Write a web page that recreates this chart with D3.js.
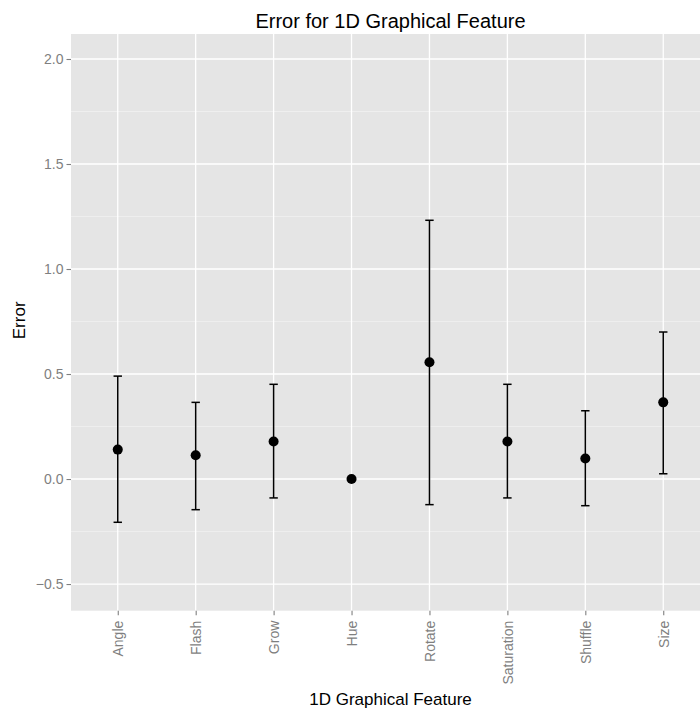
<!DOCTYPE html>
<html>
<head>
<meta charset="utf-8">
<script src="https://cdn.jsdelivr.net/npm/d3@7"></script>
<style>
html,body{margin:0;padding:0;background:#fff;}
svg{display:block;font-family:"Liberation Sans",Arial,sans-serif;}
</style>
</head>
<body>
<svg id="chart" width="700" height="713"></svg>
<script>
const categories = ["Angle","Flash","Grow","Hue","Rotate","Saturation","Shuffle","Size"];
const means  = [0.140, 0.113, 0.179, 0.000, 0.556, 0.179, 0.098, 0.365];
const lowers = [-0.206, -0.146, -0.090, 0.000, -0.122, -0.090, -0.127, 0.025];
const uppers = [0.490, 0.365, 0.451, 0.000, 1.232, 0.451, 0.325, 0.700];
const yTicks = [-0.5, 0.0, 0.5, 1.0, 1.5, 2.0];
const yMinor = [-0.25, 0.25, 0.75, 1.25, 1.75];
const yDomain = [-0.627, 2.119];

(function () {
const svg = d3.select("#chart");
const pL = 71, pR = 710, pT = 34, pB = 610.7;

const x = d3.scalePoint().domain(categories).range([pL, pR]).padding(0.6);
const y = d3.scaleLinear().domain(yDomain).range([pB, pT]);

// panel
svg.append("rect").attr("x", pL).attr("y", pT)
  .attr("width", pR - pL).attr("height", pB - pT).attr("fill", "#e5e5e5");

// minor grid
svg.append("g").selectAll("line").data(yMinor).join("line")
  .attr("x1", pL).attr("x2", pR)
  .attr("y1", d => y(d)).attr("y2", d => y(d))
  .attr("stroke", "#f2f2f2").attr("stroke-width", 0.7);

// major grid
svg.append("g").selectAll("line").data(yTicks).join("line")
  .attr("x1", pL).attr("x2", pR)
  .attr("y1", d => y(d)).attr("y2", d => y(d))
  .attr("stroke", "#ffffff").attr("stroke-width", 1.3);
svg.append("g").selectAll("line").data(categories).join("line")
  .attr("x1", d => x(d)).attr("x2", d => x(d))
  .attr("y1", pT).attr("y2", pB)
  .attr("stroke", "#ffffff").attr("stroke-width", 1.3);

// axes
const yAxis = svg.append("g").attr("transform", `translate(${pL},0)`)
  .call(d3.axisLeft(y).tickValues(yTicks).tickSize(4.5).tickPadding(3)
    .tickFormat(d => d3.format(".1f")(d).replace("-", "\u2212")));
yAxis.select(".domain").remove();
yAxis.selectAll("line").attr("stroke", "#7f7f7f").attr("stroke-width", 1.1);
yAxis.selectAll("text").attr("fill", "#7f7f7f").style("font-size", "14px")
  .style("font-family", "Liberation Sans, Arial, sans-serif");

const xAxis = svg.append("g").attr("transform", `translate(0,${pB})`)
  .call(d3.axisBottom(x).tickSize(4.5).tickPadding(3));
xAxis.select(".domain").remove();
xAxis.selectAll("line").attr("stroke", "#7f7f7f").attr("stroke-width", 1.1);
xAxis.selectAll("text").attr("fill", "#7f7f7f").style("font-size", "14px")
  .style("font-family", "Liberation Sans, Arial, sans-serif")
  .attr("transform", "rotate(-90)")
  .attr("text-anchor", "end").attr("x", -10).attr("y", 0).attr("dy", "0.35em");

// error bars
const data = categories.map((c, i) => ({c, m: means[i], lo: lowers[i], hi: uppers[i]}));
const capHalf = x.step() * 0.054;
const eb = svg.append("g").attr("stroke", "#000").attr("stroke-width", 1.5).attr("fill", "none");
eb.selectAll("line.v").data(data).join("line").attr("class", "v")
  .attr("x1", d => x(d.c)).attr("x2", d => x(d.c))
  .attr("y1", d => y(d.lo)).attr("y2", d => y(d.hi));
eb.selectAll("line.t").data(data).join("line").attr("class", "t")
  .attr("x1", d => x(d.c) - capHalf).attr("x2", d => x(d.c) + capHalf)
  .attr("y1", d => y(d.hi)).attr("y2", d => y(d.hi));
eb.selectAll("line.b").data(data).join("line").attr("class", "b")
  .attr("x1", d => x(d.c) - capHalf).attr("x2", d => x(d.c) + capHalf)
  .attr("y1", d => y(d.lo)).attr("y2", d => y(d.lo));

// points
svg.append("g").selectAll("circle").data(data).join("circle")
  .attr("cx", d => x(d.c)).attr("cy", d => y(d.m)).attr("r", 5).attr("fill", "#000");

// titles
svg.append("text").attr("x", (pL + pR) / 2).attr("y", 28)
  .attr("text-anchor", "middle").style("font-size", "20px").attr("fill", "#000")
  .text("Error for 1D Graphical Feature");
svg.append("text").attr("x", (pL + pR) / 2).attr("y", 705)
  .attr("text-anchor", "middle").style("font-size", "17px").attr("fill", "#000")
  .text("1D Graphical Feature");
svg.append("text").attr("transform", `translate(25,${(pT + pB) / 2 - 2}) rotate(-90)`)
  .attr("text-anchor", "middle").style("font-size", "17px").attr("fill", "#000")
  .text("Error");
})();
</script>
</body>
</html>
